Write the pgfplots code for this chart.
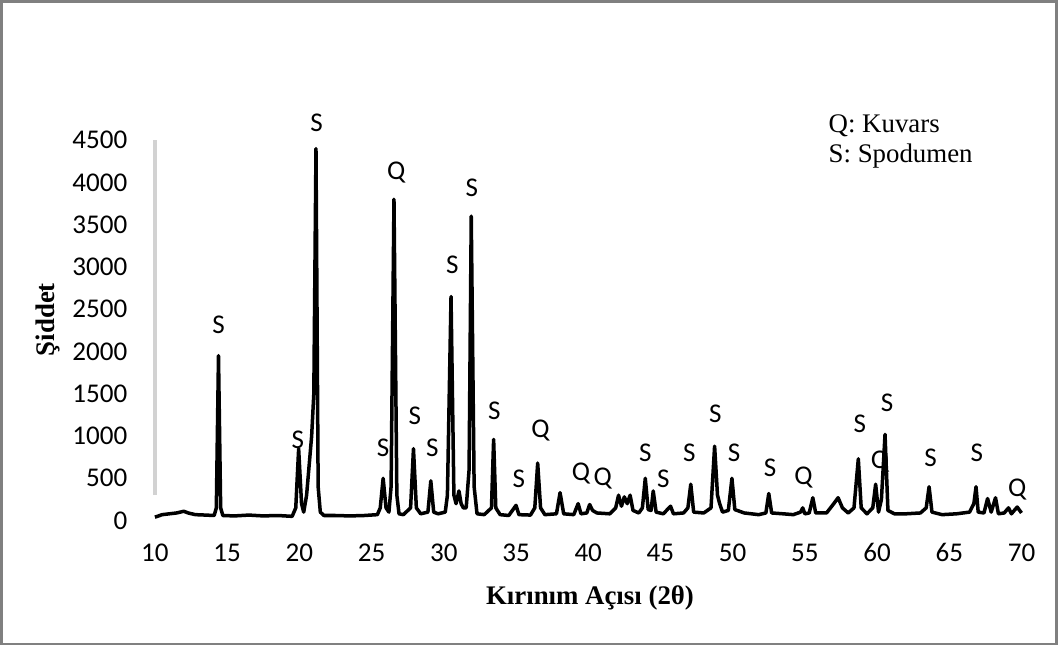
\documentclass[border=0pt]{standalone}
\usepackage{fontspec}
\setmainfont{Liberation Serif}
\newfontfamily\carlito{Carlito}
\usepackage{pgfplots}
\pgfplotsset{compat=1.18}
\usepackage{pgfplotstable}

\pgfplotstableread{
x y
10 40
10.5 70
11 80
11.5 90
12 110
12.3 90
12.8 70
13.5 65
14.1 60
14.25 150
14.4 1950
14.55 150
14.7 60
15.5 55
16.5 65
17.5 55
18.5 60
19.5 50
19.75 150
19.95 850
20.15 200
20.3 100
20.5 300
20.85 1000
21.0 1500
21.15 4400
21.3 400
21.45 100
21.7 60
22.5 60
23.5 55
24.5 60
25.4 70
25.6 150
25.8 500
26.0 150
26.2 100
26.35 400
26.55 3800
26.75 300
26.9 80
27.2 70
27.7 150
27.9 850
28.1 150
28.4 80
28.9 100
29.1 470
29.3 100
29.6 80
30.1 100
30.25 300
30.5 2650
30.7 300
30.85 200
31.05 350
31.2 200
31.35 150
31.55 150
31.75 600
31.9 3600
32.1 400
32.3 80
32.8 70
33.3 150
33.45 960
33.6 150
33.9 70
34.5 60
35.0 180
35.2 70
36.0 65
36.3 150
36.5 680
36.7 150
37.0 70
37.8 80
38.05 330
38.3 80
39.0 70
39.3 200
39.5 80
39.9 90
40.1 190
40.3 120
40.6 90
41.5 80
41.9 150
42.1 300
42.3 170
42.5 280
42.7 200
42.9 300
43.1 120
43.5 90
43.75 150
43.95 500
44.15 130
44.35 120
44.5 350
44.7 100
45.2 80
45.7 170
45.9 80
46.6 90
46.9 150
47.1 430
47.3 100
48.0 90
48.5 150
48.75 880
48.95 300
49.1 200
49.3 100
49.7 120
49.95 500
50.15 130
50.8 90
51.8 70
52.3 90
52.5 320
52.7 90
53.5 80
54.2 70
54.7 100
54.85 150
55.0 80
55.3 90
55.55 270
55.75 90
56.5 90
57.0 200
57.3 270
57.6 150
58.0 90
58.4 150
58.7 730
58.9 150
59.3 80
59.7 150
59.9 430
60.1 100
60.3 250
60.55 1020
60.75 120
61.2 80
62.0 80
63.0 90
63.4 150
63.6 400
63.8 100
64.5 70
65.5 80
66.4 100
66.7 200
66.85 400
67.0 100
67.4 90
67.65 260
67.9 100
68.2 270
68.4 80
68.8 90
69.1 150
69.3 80
69.7 160
70.0 90
}\xrd

\pgfplotstableread{
x y label
14.4 2310 S
19.9 950 S
21.2 4710 S
25.8 864 S
26.7 4120 Q
28.0 1243 S
29.2 864 S
30.6 3020 S
31.95 3930 S
33.5 1300 S
35.2 497 S
36.7 1066 Q
39.5 556 Q
41.0 497 Q
43.96 805 S
45.2 497 S
47.0 805 S
48.8 1267 S
50.1 805 S
52.6 628 S
54.9 509 Q
58.8 1148 S
60.2 700 Q
60.7 1397 S
63.7 746 S
66.9 805 S
69.7 367 Q
}\peaks

\begin{document}
\begin{tikzpicture}
\begin{axis}[
  at={(0,0)}, anchor=south west,
  scale only axis, width=13.05cm, height=5.73cm,
  xmin=10, xmax=70, ymin=0, ymax=4500,
  axis line style={draw=none}, tick style={draw=none}, clip=false,
  xtick={10,15,...,70}, ytick={0,500,...,4500},
  major tick length=0pt,
  /pgf/number format/assume math mode=true,
  /pgf/number format/1000 sep={},
  ticklabel style={font=\fontsize{11.6}{13}\carlito, inner sep=0pt},
  xticklabel style={anchor=center, yshift=-0.48cm},
  yticklabel style={anchor=east, xshift=-0.41cm},
  xlabel={Kırınım Açısı (2θ)},
  ylabel={Şiddet},
  label style={font=\fontsize{11.5}{13}\selectfont\bfseries},
  xlabel style={at={(axis description cs:0.502,-0.203)}, anchor=center},
  ylabel style={at={(axis description cs:-0.124,0.528)}, anchor=center},
]
\addplot[gray!35, line width=1.5pt] coordinates {(10,300)(10,4500)};
\addplot[black, line width=1.5pt, line join=round] table[x=x,y=y] {\xrd};
\addplot[draw=none, mark=none, nodes near coords, point meta=explicit symbolic,
  nodes near coords style={anchor=center, inner sep=0pt, font=\fontsize{11.6}{13}\carlito}]
  table[x=x,y=y,meta=label] {\peaks};
\node[anchor=west, font=\fontsize{11.5}{13}\selectfont] at (axis description cs:0.768,1.037) {Q: Kuvars};
\node[anchor=west, font=\fontsize{11.5}{13}\selectfont] at (axis description cs:0.768,0.958) {S: Spodumen};
\end{axis}
\draw[gray, line width=1.1pt] (-2.314,-1.86) rectangle (13.58,7.82);
\end{tikzpicture}
\end{document}
